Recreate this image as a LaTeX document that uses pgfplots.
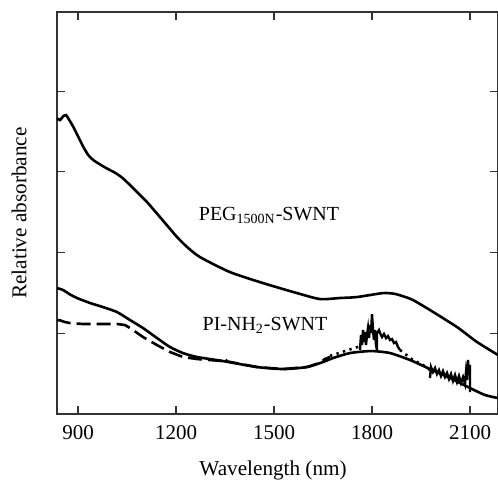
\documentclass[border=0pt]{standalone}
\usepackage{pgfplots}
\pgfplotsset{compat=1.18}
\usepackage{fontspec}
\setmainfont{Liberation Serif}
\begin{document}
\begin{tikzpicture}
\useasboundingbox (-28.5pt,-32.5pt) rectangle (220.5pt,207pt);
\begin{axis}[
  scale only axis,
  width=220.5pt, height=201pt,
  xmin=835.7, xmax=2185.7, ymin=0, ymax=4.98,
  xtick={900,1200,1500,1800,2100},
  ytick={1,2,3,4}, yticklabels={},
  tick align=inside, major tick length=4pt,
  axis line style={line width=0.6pt, black!80},
  tick style={line width=0.6pt, black!80},
  /pgf/number format/assume math mode=true,
  /pgf/number format/1000 sep={},
  ticklabel style={font=\fontsize{10.5}{12}\selectfont},
  xticklabel style={yshift=-2.3pt},
  xlabel={Wavelength (nm)},
  ylabel={Relative absorbance},
  xlabel style={at={(axis description cs:0.49,-0.152)}, anchor=base, font=\fontsize{10.6}{12}\selectfont},
  ylabel style={at={(axis description cs:-0.086,0.5)}, anchor=center, font=\fontsize{10.6}{12}\selectfont},
  clip=true,
]
% PEG1500N-SWNT
\addplot[black, line width=1.3pt, smooth, tension=0.4] coordinates {
(836.6,3.662) (844.9,3.641) (855.0,3.690) (863.3,3.703) (870.3,3.662) (885.6,3.557)
(900.9,3.433) (916.2,3.310) (931.5,3.207) (946.8,3.146) (967.3,3.092) (987.9,3.043)
(1013.3,2.989) (1033.8,2.932) (1054.0,2.857) (1079.7,2.754) (1110.3,2.630) (1140.9,2.487)
(1171.5,2.342) (1202.1,2.197) (1232.8,2.073) (1273.5,1.944) (1365.3,1.758) (1466.3,1.622)
(1570.4,1.498) (1640.8,1.424) (1702.0,1.437) (1754.1,1.449) (1833.7,1.498) (1870,1.488)
(1900,1.452) (1925.5,1.412) (1977.5,1.288) (2060.2,1.077) (2121.4,0.892) (2185.7,0.731)
};
% PI-NH2-SWNT solid
\addplot[black, line width=1.3pt, smooth, tension=0.4] coordinates {
(835.7,1.560) (854.1,1.536) (876,1.48) (896.9,1.437) (936.7,1.375) (976.5,1.325) (1019.4,1.263)
(1059.2,1.164) (1099.0,1.065) (1141.8,0.941) (1181.6,0.830) (1221.4,0.755)
(1264.3,0.706) (1343.9,0.656) (1448.0,0.582) (1527.5,0.557) (1601.0,0.582)
(1650.0,0.644) (1680.6,0.693) (1732.6,0.755) (1796.9,0.780) (1855.1,0.755)
(1916.3,0.669) (1977.5,0.557) (2038.8,0.446) (2100.0,0.322) (2145.9,0.235) (2185.7,0.198)
};
% second spectrum: dashed part
\addplot[black, line width=1.3pt, dash pattern=on 7pt off 3pt] coordinates {
(835.7,1.164) (845,1.160) (860.2,1.139) (875.5,1.127) (915.3,1.115) (967.3,1.115)
(1019.4,1.115) (1043.9,1.102) (1059.2,1.065) (1099.0,0.954) (1141.8,0.854)
(1181.6,0.768) (1221.4,0.706) (1264.3,0.681) (1343.9,0.656) (1350,0.690) (1356,0.652)
(1448.0,0.582) (1527.5,0.557) (1601.0,0.582) (1645,0.640) (1655,0.68) (1671.4,0.706)
};
% dotted gaps
\addplot[black, line width=1.3pt, dash pattern=on 1.2pt off 2.2pt] coordinates {
(1671.4,0.720) (1717.3,0.780) (1763.3,0.840)
};
\addplot[black, line width=1.3pt, dash pattern=on 1.2pt off 2.2pt] coordinates {
(1885.7,0.793) (1925.5,0.669) (1956.1,0.607) (1977.5,0.545)
};
% noisy segments
\addplot[black, line width=1.2pt] coordinates {
(1763.3,0.793) (1766.3,0.978) (1769.4,0.855) (1772.4,1.040) (1775.5,0.892)
(1778.6,1.015) (1781.6,0.855) (1784.7,0.978) (1787.8,1.065) (1790.8,0.941)
(1793.9,1.102) (1796.9,1.003) (1800.0,1.238) (1803.1,1.040) (1806.1,0.916)
(1809.2,1.040) (1812.2,0.855) (1815.3,0.793) (1815.3,1.003) (1821.4,1.040)
(1824.5,1.003) (1830.6,0.954) (1836.7,0.991) (1842.9,0.941) (1849.0,0.966)
(1855.1,0.916) (1861.2,0.929) (1867.3,0.879) (1873.5,0.892) (1879.6,0.830)
(1885.7,0.793)
};
\addplot[black, line width=1.2pt] coordinates {
(1977.5,0.446) (1980.6,0.582) (1986.7,0.520) (1992.8,0.570) (1998.9,0.495)
(2005.0,0.545) (2011.2,0.471) (2017.3,0.532) (2023.4,0.458) (2029.6,0.508)
(2035.7,0.433) (2041.8,0.495) (2047.9,0.409) (2054.1,0.483) (2060.2,0.396)
(2066.3,0.471) (2072.4,0.384) (2078.6,0.458) (2084.7,0.372) (2087.8,0.520)
(2090.8,0.421) (2093.9,0.669) (2096.9,0.483) (2100.0,0.607) (2100.0,0.272)
};
\node[font=\fontsize{10}{12}\selectfont] at (axis cs:1484.7,2.464) {PEG\textsubscript{1500N}-SWNT};
\node[font=\fontsize{10}{12}\selectfont] at (axis cs:1472.4,1.102) {PI-NH\textsubscript{2}-SWNT};
\end{axis}
\end{tikzpicture}
\end{document}
